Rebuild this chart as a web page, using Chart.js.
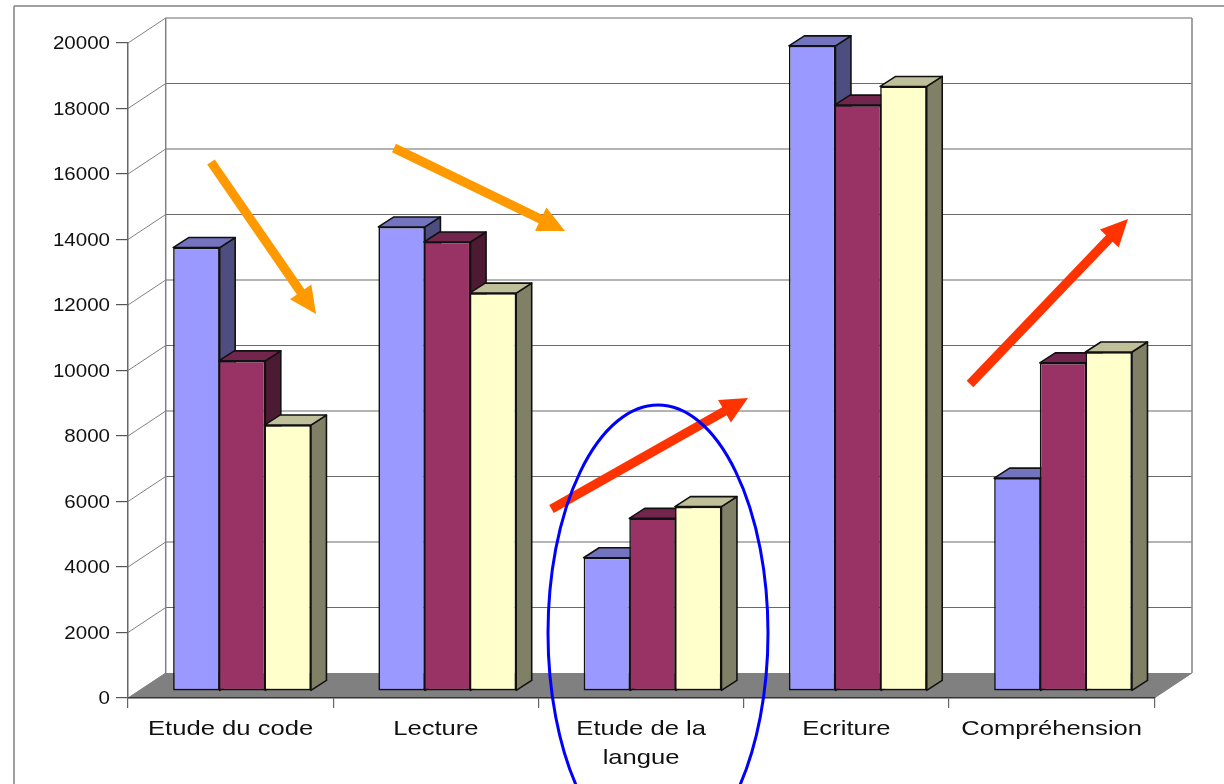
<!DOCTYPE html>
<html>
<head>
<meta charset="utf-8">
<style>html,body{margin:0;padding:0;background:#fff}canvas{display:block}</style>
<script src="https://cdn.jsdelivr.net/npm/chart.js@4"></script>
</head>
<body>
<canvas id="c" width="1224" height="784"></canvas>
<script>
const categories = ['Etude du code', 'Lecture', ['Etude de la', 'langue'], 'Ecriture', 'Compréhension'];
const seriesA = [13540, 14170, 4070, 19700, 6500];
const seriesB = [10080, 13710, 5270, 17890, 10020];
const seriesC = [8120, 12150, 5630, 18460, 10350];
const yMax = 20000;
const yStep = 2000;

const FONT = '"Liberation Sans", Arial, sans-serif';
const wall = {dx: 37.7, dy: -25};           // depth of the chart box
const barShift = {dx: 11.4, dy: -7};        // where the bar row sits in the box
const barDepth = {dx: 15.5, dy: -10};       // depth of each bar
const faces = [
  {front: '#9999FF', top: '#7373BF', side: '#4D4D80'},
  {front: '#993366', top: '#73264D', side: '#4D1A33'},
  {front: '#FFFFCC', top: '#BFBF99', side: '#808066'}
];
const arrows = [
  {from: [211, 162], to: [316, 314], color: '#FF9900'},
  {from: [394, 148], to: [565, 231], color: '#FF9900'},
  {from: [551.5, 509], to: [748, 398], color: '#FF3300'},
  {from: [970, 384], to: [1128, 219], color: '#FF3300'}
];
const ring = {cx: 658, cy: 633, rx: 110, ry: 228, color: '#0000FF'};

function poly(ctx, pts, fill, stroke, lw) {
  ctx.beginPath();
  pts.forEach((p, i) => i ? ctx.lineTo(p[0], p[1]) : ctx.moveTo(p[0], p[1]));
  ctx.closePath();
  if (fill) { ctx.fillStyle = fill; ctx.fill(); }
  if (stroke) { ctx.strokeStyle = stroke; ctx.lineWidth = lw; ctx.lineJoin = 'round'; ctx.stroke(); }
}
function seg(ctx, x1, y1, x2, y2, color, lw) {
  ctx.beginPath(); ctx.moveTo(x1, y1); ctx.lineTo(x2, y2);
  ctx.strokeStyle = color; ctx.lineWidth = lw; ctx.stroke();
}
function stretched(ctx, text, x, y, font, sx, align) {
  ctx.save();
  ctx.translate(x, y);
  ctx.scale(sx, 1);
  ctx.font = font;
  ctx.fillStyle = '#111';
  ctx.textAlign = align;
  ctx.textBaseline = 'middle';
  ctx.fillText(text, 0, 0);
  ctx.restore();
}

const box3d = {
  id: 'box3d',
  beforeDraw(chart) {
    const {ctx, chartArea: a, scales: {y}} = chart;
    ctx.save();
    // outer frame
    seg(ctx, 14, 6, 1224, 6, '#808080', 1.5);
    seg(ctx, 14, 6, 14, 784, '#808080', 1.5);
    // floor
    const y0 = y.getPixelForValue(0);
    poly(ctx, [[a.left, y0], [a.right, y0], [a.right + wall.dx, y0 + wall.dy], [a.left + wall.dx, y0 + wall.dy]], '#808080');
    // walls and grid
    y.ticks.forEach(t => {
      const py = y.getPixelForValue(t.value);
      if (t.value !== 0) seg(ctx, a.left + wall.dx, py + wall.dy, a.right + wall.dx, py + wall.dy, '#6a6a6a', 1.2);
      seg(ctx, a.left, py, a.left + wall.dx, py + wall.dy, '#808080', 1);
    });
    const top = y.getPixelForValue(yMax) + wall.dy, bot = y0 + wall.dy;
    seg(ctx, a.left + wall.dx, top, a.left + wall.dx, bot, '#808080', 1.5);
    seg(ctx, a.right + wall.dx, top, a.right + wall.dx, bot, '#8c8c8c', 1.6);
    seg(ctx, a.right, y0, a.right + wall.dx, bot, '#808080', 1);
    ctx.restore();
  },
  beforeDatasetsDraw(chart) {
    // Series are painted first to last so each bar hides its left neighbour's side face.
    const ctx = chart.ctx;
    chart.data.datasets.forEach((ds, i) => {
      const meta = chart.getDatasetMeta(i), f = faces[i];
      ctx.save();
      ctx.translate(barShift.dx, barShift.dy);
      meta.data.forEach(el => {
        const l = el.x - el.width / 2, r = el.x + el.width / 2, t = el.y, b = el.base;
        const d = barDepth.dx, e = barDepth.dy;
        poly(ctx, [[r, t], [r + d, t + e], [r + d, b + e], [r, b]], f.side, '#111', 1.6);
        poly(ctx, [[l, t], [l + d, t + e], [r + d, t + e], [r, t]], f.top, '#111', 1.6);
      });
      meta.controller.draw();
      ctx.restore();
    });
    return false;
  },
  afterDraw(chart) {
    const {ctx, scales: {x, y}} = chart;
    // axis labels
    y.ticks.forEach(t => {
      stretched(ctx, t.label, 110, y.getPixelForValue(t.value) + 1, '19px ' + FONT, 1.08, 'right');
    });
    categories.forEach((c, i) => {
      const lines = Array.isArray(c) ? c : [c];
      lines.forEach((s, k) => {
        stretched(ctx, s, x.getPixelForTick(i), 729 + k * 29, '21px ' + FONT, 1.22, 'center');
      });
    });
    // annotations
    ctx.save();
    arrows.forEach(A => {
      const [x1, y1] = A.from, [x2, y2] = A.to;
      const len = Math.hypot(x2 - x1, y2 - y1), ux = (x2 - x1) / len, uy = (y2 - y1) / len;
      const hl = 27, hw = 13, sw = 4.6;
      const bx = x2 - ux * hl, by = y2 - uy * hl, nx = -uy, ny = ux;
      poly(ctx, [
        [x1 + nx * sw, y1 + ny * sw], [bx + nx * sw, by + ny * sw],
        [bx + nx * hw, by + ny * hw], [x2, y2],
        [bx - nx * hw, by - ny * hw], [bx - nx * sw, by - ny * sw],
        [x1 - nx * sw, y1 - ny * sw]
      ], A.color);
    });
    ctx.beginPath();
    ctx.ellipse(ring.cx, ring.cy, ring.rx, ring.ry, 0, 0, Math.PI * 2);
    ctx.strokeStyle = ring.color;
    ctx.lineWidth = 3;
    ctx.stroke();
    ctx.restore();
  }
};

const mk = (data, i) => ({
  data,
  backgroundColor: faces[i].front,
  borderColor: '#111',
  borderWidth: 1.6,
  borderSkipped: false,
  inflateAmount: 0,
  categoryPercentage: 0.667,
  barPercentage: 1.02
});

new Chart(document.getElementById('c'), {
  type: 'bar',
  data: {labels: categories, datasets: [seriesA, seriesB, seriesC].map(mk)},
  options: {
    responsive: false,
    animation: false,
    events: [],
    layout: {padding: {left: 116, top: 43, right: 69.7, bottom: 76}},
    plugins: {legend: {display: false}, title: {display: false}, tooltip: {enabled: false}},
    scales: {
      x: {
        afterFit(s) { s.height = 10; },
        grid: {drawOnChartArea: false, drawTicks: true, tickLength: 10, color: '#666', lineWidth: 1.2},
        border: {color: '#333', width: 1.5},
        ticks: {display: false}
      },
      y: {
        min: 0, max: yMax,
        afterFit(s) { s.width = 12; },
        grid: {drawOnChartArea: false, drawTicks: true, tickLength: 12, color: '#555', lineWidth: 1.2},
        border: {color: '#666', width: 1.5},
        ticks: {display: false, stepSize: yStep, callback: v => String(v)}
      }
    }
  },
  plugins: [box3d]
});
</script>
</body>
</html>
